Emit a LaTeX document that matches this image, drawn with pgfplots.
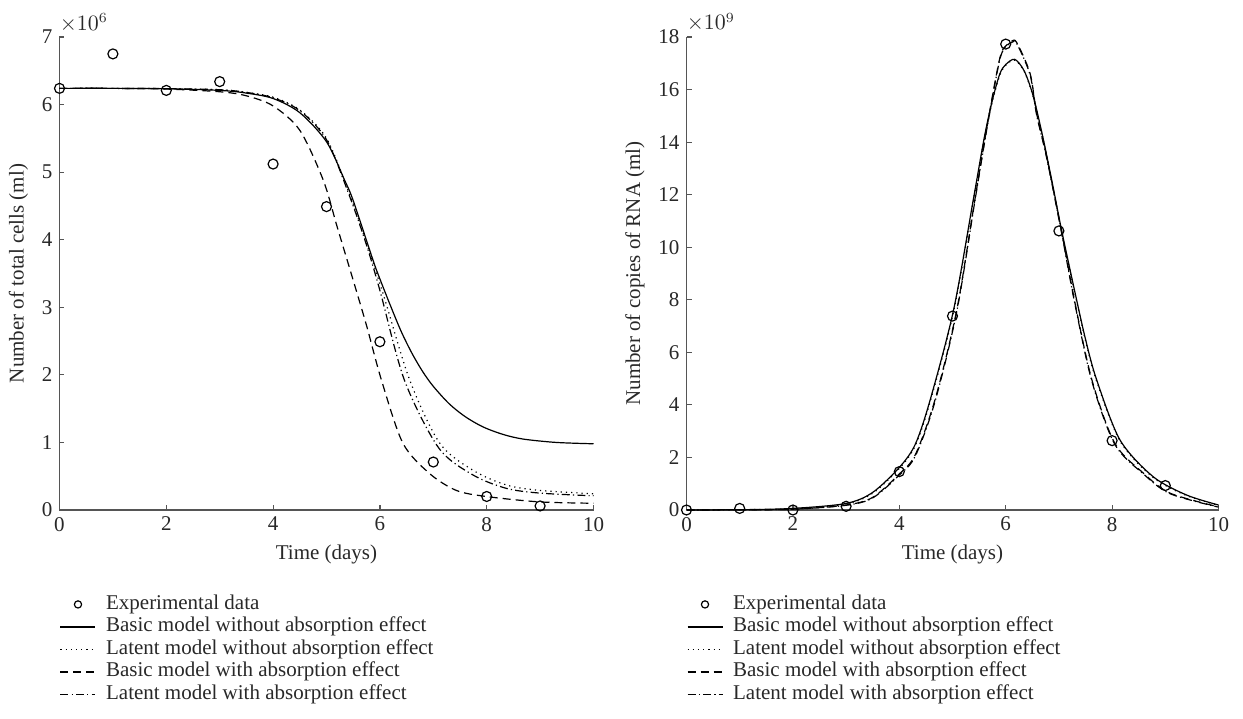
\documentclass[border=0pt]{standalone}
\usepackage{fontspec}
\setmainfont{Liberation Serif}
\usepackage{pgfplots}
\pgfplotsset{compat=1.18}
\definecolor{axgray}{RGB}{85,85,85}
\definecolor{txtgray}{RGB}{40,40,40}

\pgfplotstableread{
x y
0 6.24
1 6.75
2 6.21
3 6.34
4 5.12
5 4.49
6 2.49
7 0.71
8 0.20
9 0.06
}\cellsdata

\pgfplotstableread{
x y
0 0.00
1 0.06
2 0.00
3 0.14
4 1.46
5 7.38
6 17.73
7 10.62
8 2.64
9 0.93
}\rnadata

\pgfplotsset{
  legline/.style={legend image code/.code={\draw[##1] (0pt,0pt) -- (17.5pt,0pt);}},
  legmark/.style={legend image code/.code={\path[draw=none] (0pt,0pt) -- (17.5pt,0pt);
      \path[draw=none] plot[only marks, mark=o, mark size=1.8pt,
        mark options={draw=black, line width=0.6pt}] coordinates {(8.75pt,0pt)};}},
  panel/.style={
    scale only axis,
    width=267pt, height=236.5pt,
    xmin=0, xmax=10,
    axis x line*=bottom, axis y line*=left,
    axis line style={axgray, line width=0.7pt},
    tick style={axgray, line width=0.6pt},
    tick align=inside, major tick length=2.5pt,
    xtick={0,2,...,10},
    /pgf/number format/assume math mode=true,
    tick label style={font=\fontsize{10.5}{12}\selectfont, text=txtgray},
    label style={font=\fontsize{10.5}{12}\selectfont, text=txtgray},
    xlabel={Time (days)},
    clip=false,
    legend cell align=left,
    legend style={draw=none, fill=none, at={(0,-0.175)}, anchor=north west,
      font=\fontsize{10.5}{12}\selectfont, text=txtgray,
      column sep=5pt, row sep=0pt, inner sep=0pt,
      nodes={inner sep=0pt, text height=8pt, text depth=3.25pt}},
    every axis plot/.append style={line width=0.6pt, black},
  },
}

\begin{document}
\begin{tikzpicture}
\useasboundingbox (0,0) rectangle (621.5pt,359pt);

% --- left: total cells ---
\begin{axis}[panel, at={(29.75pt,104pt)}, anchor=south west,
  ymin=0, ymax=7, ytick={0,1,...,7},
  ylabel={Number of total cells (ml)}]
\addplot[only marks, mark=o, mark size=2.5pt, legmark] table {\cellsdata};
\addlegendentry{Experimental data}
\addplot[smooth, legline] coordinates {
  (0,6.24)(1,6.24)(2,6.235)(3,6.21)(3.5,6.17)(4,6.09)(4.5,5.88)(5,5.45)
  (5.34,4.88)(5.5,4.58)(5.87,3.70)(6.0,3.42)(6.2,3.02)(6.4,2.64)(6.6,2.32)
  (6.8,2.05)(7.0,1.83)(7.3,1.57)(7.6,1.38)(7.93,1.23)(8.3,1.12)(8.68,1.05)
  (9.3,1.00)(10,0.98)};
\addlegendentry{Basic model without absorption effect}
\addplot[smooth, dotted, legline] coordinates {
  (0,6.24)(1,6.24)(2,6.235)(3,6.22)(3.5,6.18)(4,6.11)(4.5,5.92)(5,5.50)
  (5.43,4.68)(5.75,3.95)(6.06,3.20)(6.56,1.92)(7.12,0.99)(7.74,0.59)
  (8.37,0.37)(9,0.29)(10,0.24)};
\addlegendentry{Latent model without absorption effect}
\addplot[smooth, dash pattern=on 4pt off 2.5pt, legline] coordinates {
  (0,6.24)(1,6.24)(2,6.23)(3,6.19)(3.5,6.13)(4,5.98)(4.5,5.62)(4.94,4.88)
  (5.2,4.19)(5.5,3.40)(5.75,2.73)(6.03,1.92)(6.43,0.99)(6.93,0.54)
  (7.43,0.29)(7.99,0.20)(8.99,0.12)(10,0.10)};
\addlegendentry{Basic model with absorption effect}
\addplot[smooth, dash pattern=on 4pt off 1.6pt on 0.6pt off 1.6pt, legline] coordinates {
  (0,6.24)(1,6.24)(2,6.235)(3,6.22)(3.5,6.18)(4,6.10)(4.5,5.91)(5,5.48)
  (5.43,4.65)(5.75,3.92)(6.0,3.25)(6.46,1.92)(7.1,0.92)(7.74,0.52)
  (8.37,0.32)(9,0.25)(10,0.21)};
\addlegendentry{Latent model with absorption effect}
\node[anchor=base west, font=\fontsize{10.5}{12}\selectfont, text=txtgray, inner sep=0pt]
  at ([yshift=3.5pt]rel axis cs:0,1) {$\times 10^{6}$};
\end{axis}

% --- right: RNA copies ---
\begin{axis}[panel, width=266pt, at={(343.25pt,104pt)}, anchor=south west,
  ymin=0, ymax=18, ytick={0,2,...,18},
  ylabel={Number of copies of RNA (ml)}]
\addplot[only marks, mark=o, mark size=2.5pt, legmark] table {\rnadata};
\addlegendentry{Experimental data}
\addplot[smooth, legline] coordinates {
  (0,0)(1,0.01)(2,0.06)(3,0.25)(3.5,0.67)(4,1.62)(4.3,2.5)(4.58,4.19)
  (5.02,7.61)(5.39,11.8)(5.6,14.2)(5.75,15.6)(5.89,16.6)(6.0,16.95)
  (6.17,17.15)(6.35,16.7)(6.52,15.73)(6.71,14.08)(6.89,12.3)(7.05,10.65)
  (7.3,8.3)(7.5,6.5)(7.71,4.95)(8.15,2.66)(8.77,1.27)(9.4,0.57)(10,0.19)};
\addlegendentry{Basic model without absorption effect}
\addplot[smooth, dotted, legline] coordinates {
  (0,0)(1,0.01)(2,0.05)(3,0.23)(3.5,0.64)(4,1.58)(4.3,2.45)(4.58,4.12)
  (5.02,7.55)(5.39,11.75)(5.6,14.15)(5.75,15.55)(5.89,16.55)(6.0,16.92)
  (6.17,17.12)(6.35,16.68)(6.52,15.7)(6.71,14.05)(6.89,12.27)(7.05,10.6)
  (7.3,8.25)(7.5,6.45)(7.71,4.9)(8.15,2.62)(8.77,1.24)(9.4,0.55)(10,0.18)};
\addlegendentry{Latent model without absorption effect}
\addplot[smooth, dash pattern=on 4pt off 2.5pt, legline] coordinates {
  (0,0)(1,0.01)(2,0.03)(3,0.19)(3.5,0.48)(4,1.37)(4.3,2.1)(4.67,4.19)
  (5.08,7.61)(5.42,11.8)(5.65,14.6)(5.89,17.2)(6.03,17.72)(6.12,17.85)
  (6.21,17.78)(6.46,16.6)(6.58,15.1)(6.77,13.44)(7.05,10.6)(7.3,7.9)
  (7.62,4.95)(8.05,2.54)(8.59,1.40)(9.09,0.64)(10,0.12)};
\addlegendentry{Basic model with absorption effect}
\addplot[smooth, dash pattern=on 4pt off 1.6pt on 0.6pt off 1.6pt, legline] coordinates {
  (0,0)(1,0.01)(2,0.03)(3,0.18)(3.5,0.46)(4,1.33)(4.3,2.05)(4.67,4.12)
  (5.08,7.55)(5.42,11.75)(5.65,14.55)(5.89,17.15)(6.03,17.68)(6.12,17.8)
  (6.21,17.74)(6.46,16.55)(6.58,15.05)(6.77,13.4)(7.05,10.55)(7.3,7.85)
  (7.62,4.9)(8.05,2.5)(8.59,1.37)(9.09,0.62)(10,0.11)};
\addlegendentry{Latent model with absorption effect}
\node[anchor=base west, font=\fontsize{10.5}{12}\selectfont, text=txtgray, inner sep=0pt]
  at ([yshift=3.5pt]rel axis cs:0,1) {$\times 10^{9}$};
\end{axis}
\end{tikzpicture}
\end{document}
